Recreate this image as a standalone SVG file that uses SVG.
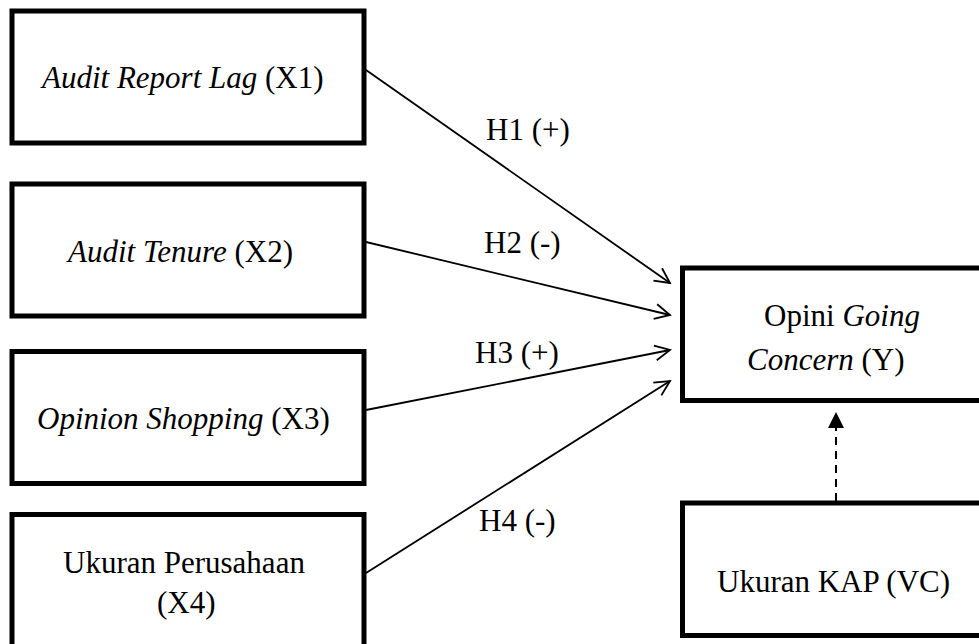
<svg xmlns="http://www.w3.org/2000/svg" width="979" height="644" viewBox="0 0 979 644">
<style>
.box{fill:#fff;stroke:#000;stroke-width:5}
.t{font-family:"Liberation Serif","Times New Roman",serif;font-size:31px;fill:#000}
.i{font-style:italic}
.c{stroke:#000;stroke-width:1.8;fill:none}
</style>
<defs>
<marker id="open" markerUnits="userSpaceOnUse" markerWidth="18" markerHeight="18" viewBox="0 0 18 18" refX="16" refY="9" orient="auto">
<path d="M1,1.5 L16,9 L1,16.5" fill="none" stroke="#000" stroke-width="1.8"/>
</marker>
</defs>
<rect width="979" height="644" fill="#fff"/>
<g id="connectors">
<line class="c" x1="366" y1="70" x2="670" y2="283" marker-end="url(#open)"/>
<line class="c" x1="366" y1="242" x2="670" y2="315" marker-end="url(#open)"/>
<line class="c" x1="366" y1="410" x2="670" y2="350" marker-end="url(#open)"/>
<line class="c" x1="366" y1="573" x2="670" y2="381" marker-end="url(#open)"/>
<line x1="836" y1="501" x2="836" y2="426" stroke="#000" stroke-width="2" stroke-dasharray="8,6"/>
<polygon points="836,412 828,428 844,428" fill="#000"/>
<text class="t" x="486" y="140">H1 (+)</text>
<text class="t" x="484" y="253">H2 (-)</text>
<text class="t" x="475" y="363">H3 (+)</text>
<text class="t" x="479" y="531">H4 (-)</text>
</g>
<g id="x1">
<rect class="box" x="12" y="11" width="352" height="132"/>
<text class="t" x="42" y="88"><tspan class="i">Audit Report Lag</tspan> (X1)</text>
</g>
<g id="x2">
<rect class="box" x="12" y="184" width="352" height="132"/>
<text class="t" x="68" y="262"><tspan class="i">Audit Tenure</tspan> (X2)</text>
</g>
<g id="x3">
<rect class="box" x="12" y="351.5" width="352" height="132"/>
<text class="t" x="37" y="429"><tspan class="i">Opinion Shopping</tspan> (X3)</text>
</g>
<g id="x4">
<rect class="box" x="12" y="514.5" width="352" height="150"/>
<text class="t" x="63" y="573">Ukuran Perusahaan</text>
<text class="t" x="157" y="613">(X4)</text>
</g>
<g id="y">
<rect class="box" x="682.5" y="268" width="330" height="132.5"/>
<text class="t" x="764" y="326">Opini <tspan class="i">Going</tspan></text>
<text class="t" x="747" y="370"><tspan class="i">Concern</tspan> (Y)</text>
</g>
<g id="vc">
<rect class="box" x="682.5" y="503" width="330" height="132.5"/>
<text class="t" x="717" y="592">Ukuran KAP (VC)</text>
</g>
</svg>
